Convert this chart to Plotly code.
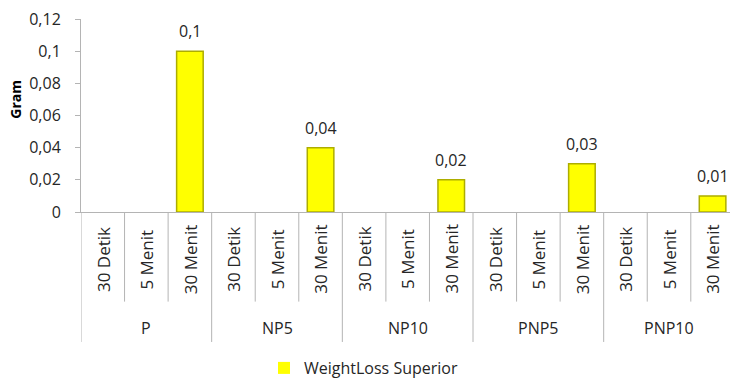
import plotly.graph_objects as go

# Weight loss (gram) per treatment and immersion time
groups = ["P", "NP5", "NP10", "PNP5", "PNP10"]
times = ["30 Detik", "5 Menit", "30 Menit"]
loss_30_detik = [0, 0, 0, 0, 0]
loss_5_menit = [0, 0, 0, 0, 0]
loss_30_menit = [0.1, 0.04, 0.02, 0.03, 0.01]

y_tick_values = [0, 0.02, 0.04, 0.06, 0.08, 0.1, 0.12]
y_tick_labels = ["0", "0,02", "0,04", "0,06", "0,08", "0,1", "0,12"]

series_name = "WeightLoss Superior"
y_title = "Gram"

FONT = "Open Sans"
TXT = "#262626"
GRID = "#b4b4b4"

# flatten into group/time categories
cats, vals, labels = [], [], []
for gi, g in enumerate(groups):
    for t, v in zip(times, (loss_30_detik[gi], loss_5_menit[gi], loss_30_menit[gi])):
        cats.append(f"{g} | {t}")
        vals.append(v)
        labels.append(f"{v:g}".replace(".", ",") if v else "")

fig = go.Figure(
    go.Bar(
        x=cats,
        y=vals,
        name=series_name,
        marker=dict(
            color="#FFFF00",
            line=dict(color="#ADAD00", width=[1.5 if v else 0 for v in vals]),
        ),
        width=0.61,
        showlegend=True,
    )
)

# pixel layout of the plot area
top_px, bottom_px, fig_h = 19, 215, 385
plot_h = bottom_px - top_px


def py(pixel_y):
    return (bottom_px - pixel_y) / plot_h


shapes = []
for k in range(len(cats) + 1):
    is_group = k % len(times) == 0
    shapes.append(
        dict(
            type="line", xref="x", yref="paper",
            x0=k - 0.5, x1=k - 0.5, y0=0, y1=py(347 if is_group else 306),
            line=dict(color=GRID, width=1),
        )
    )

annotations = []
# value labels above the bars
for c, v, lab in zip(cats, vals, labels):
    if lab:
        annotations.append(
            dict(
                x=c, xref="x", y=v, yref="y", text=lab, showarrow=False,
                xanchor="center", yanchor="middle", yshift=20,
                font=dict(family=FONT, size=16, color=TXT),
            )
        )
# time labels (rotated) and group labels under the axis
for i, c in enumerate(cats):
    annotations.append(
        dict(
            x=i, xref="x", y=py(263), yref="paper", text=c.split(" | ")[1],
            textangle=-90, showarrow=False, xanchor="center", yanchor="middle",
            font=dict(family=FONT, size=17, color=TXT),
        )
    )
for gi, g in enumerate(groups):
    annotations.append(
        dict(
            x=gi * len(times) + 1, xref="x", y=py(333), yref="paper", text=g,
            showarrow=False, xanchor="center", yanchor="middle",
            font=dict(family=FONT, size=16, color=TXT),
        )
    )
annotations.append(
    dict(
        x=(16 - 81) / 649, xref="paper", y=py(101), yref="paper",
        text=f"<b>{y_title}</b>", textangle=-90, showarrow=False,
        xanchor="center", yanchor="middle",
        font=dict(family=FONT, size=14, color="#000000"),
    )
)

fig.update_layout(
    width=730,
    height=fig_h,
    margin=dict(l=81, r=0, t=top_px, b=fig_h - bottom_px, pad=0),
    paper_bgcolor="white",
    plot_bgcolor="white",
    font=dict(family=FONT, size=16, color=TXT),
    bargap=0.39,
    shapes=shapes,
    annotations=annotations,
    legend=dict(
        orientation="h",
        x=(264 - 81) / 649, xanchor="left",
        y=py(374), yanchor="middle",
        font=dict(family=FONT, size=16, color=TXT),
        itemwidth=30,
    ),
    xaxis=dict(
        type="category",
        range=[-0.5, 14.4],
        showticklabels=False,
        ticks="",
        showgrid=False,
        showline=True,
        linecolor=GRID,
        linewidth=1,
        zeroline=False,
    ),
    yaxis=dict(
        range=[0, 0.12],
        tickvals=y_tick_values,
        ticktext=y_tick_labels,
        ticks="outside",
        ticklen=5,
        tickcolor=GRID,
        showgrid=False,
        showline=True,
        linecolor=GRID,
        linewidth=1,
        zeroline=False,
        ticklabelstandoff=11,
        tickfont=dict(family=FONT, size=16, color=TXT),
    ),
)

fig.write_html("out.html")
